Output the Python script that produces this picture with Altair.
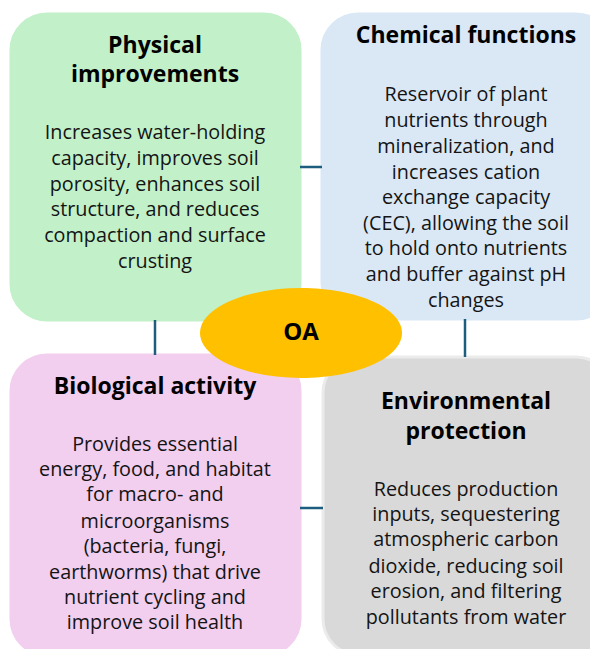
import altair as alt
import pandas as pd

# Boxes
box_name = ["physical", "chemical", "biological", "environmental"]
box_x0 = [11, 322, 11, 323]
box_x1 = [300, 612, 300, 612]
box_y0 = [14, 14, 355, 357]
box_y1 = [320, 319, 655, 655]
box_fill = ["#C2F0C8", "#DAE8F6", "#F2CEEF", "#D9D9D9"]
box_stroke = ["#C2F0C8", "#DAE8F6", "#F2CEEF", "#EBEBEB"]

# Connectors
ln_x0 = [300, 155, 465, 300]
ln_x1 = [322, 155, 465, 323]
ln_y0 = [167, 320, 319, 508]
ln_y1 = [167, 355, 357, 508]

# Center ellipse
oa_x = [301]
oa_y = [333]
oa_label = ["OA"]

# Titles
title_text = ["Physical", "improvements", "Chemical functions", "Biological activity",
              "Environmental", "protection"]
title_x = [155, 155, 466, 155, 466, 466]
title_y = [46, 75, 36, 387, 402, 432]

# Body text lines
body_text = [
    "Increases water-holding", "capacity, improves soil", "porosity, enhances soil",
    "structure, and reduces", "compaction and surface", "crusting",
    "Reservoir of plant", "nutrients through", "mineralization, and", "increases cation",
    "exchange capacity", "(CEC), allowing the soil", "to hold onto nutrients",
    "and buffer against pH", "changes",
    "Provides essential", "energy, food, and habitat", "for macro- and",
    "microorganisms", "(bacteria, fungi,", "earthworms) that drive",
    "nutrient cycling and", "improve soil health",
    "Reduces production", "inputs, sequestering", "atmospheric carbon",
    "dioxide, reducing soil", "erosion, and filtering", "pollutants from water",
]
body_x = [155] * 6 + [466] * 9 + [155] * 8 + [466] * 6
body_y = [133, 159, 185, 210, 236, 262,
          95, 121, 147, 173, 198, 224, 249, 275, 301,
          445, 470, 495, 522, 547, 573, 598, 623,
          490, 515, 540, 567, 592, 618]

W, H = 582, 641
xs = alt.Scale(domain=[8, 8 + W], nice=False, zero=False)
ys = alt.Scale(domain=[8, 8 + H], nice=False, zero=False, reverse=True)

boxes = pd.DataFrame(dict(name=box_name, x0=box_x0, x1=box_x1, y0=box_y0, y1=box_y1,
                          fill=box_fill, stroke=box_stroke))
lines = pd.DataFrame(dict(x0=ln_x0, x1=ln_x1, y0=ln_y0, y1=ln_y1))
oa = pd.DataFrame(dict(x=oa_x, y=oa_y, t=oa_label))
titles = pd.DataFrame(dict(x=title_x, y=title_y, t=title_text))
body = pd.DataFrame(dict(x=body_x, y=body_y, t=body_text))

FONT = "Open Sans"

rect = alt.Chart(boxes).mark_rect(cornerRadius=36, strokeWidth=3, clip=True).encode(
    x=alt.X("x0:Q", scale=xs, axis=None), x2="x1:Q",
    y=alt.Y("y0:Q", scale=ys, axis=None), y2="y1:Q",
    fill=alt.Fill("fill:N", scale=None),
    stroke=alt.Stroke("stroke:N", scale=None),
)

rule = alt.Chart(lines).mark_rule(color="#1D5E7E", strokeWidth=2.5).encode(
    x=alt.X("x0:Q", scale=xs, axis=None), x2="x1:Q",
    y=alt.Y("y0:Q", scale=ys, axis=None), y2="y1:Q",
)

ellipse = alt.Chart(oa).mark_point(
    shape="M -1 0 A 1 0.445 0 1 0 1 0 A 1 0.445 0 1 0 -1 0 Z",
    size=202 * 202, filled=True, fill="#FFC000", opacity=1, strokeWidth=0,
).encode(
    x=alt.X("x:Q", scale=xs, axis=None),
    y=alt.Y("y:Q", scale=ys, axis=None),
)

oa_text = alt.Chart(oa).mark_text(font=FONT, fontSize=24, fontWeight="bold",
                                  color="#000000", baseline="middle", align="center").encode(
    x=alt.X("x:Q", scale=xs, axis=None),
    y=alt.Y("y:Q", scale=ys, axis=None),
    text="t:N",
)

title_layer = alt.Chart(titles).mark_text(font=FONT, fontSize=23, fontWeight="bold",
                                          color="#000000", baseline="middle", align="center").encode(
    x=alt.X("x:Q", scale=xs, axis=None),
    y=alt.Y("y:Q", scale=ys, axis=None),
    text="t:N",
)

body_layer = alt.Chart(body).mark_text(font=FONT, fontSize=19.8,
                                       color="#141414", baseline="middle", align="center").encode(
    x=alt.X("x:Q", scale=xs, axis=None),
    y=alt.Y("y:Q", scale=ys, axis=None),
    text="t:N",
)

chart = alt.layer(rect, rule, title_layer, body_layer, ellipse, oa_text).properties(
    width=W, height=H, padding=0, background="white",
    autosize=alt.AutoSizeParams(type="none"),
).configure_view(stroke=None)

chart.save("out.html", embed_options={"renderer": "svg", "actions": False})
